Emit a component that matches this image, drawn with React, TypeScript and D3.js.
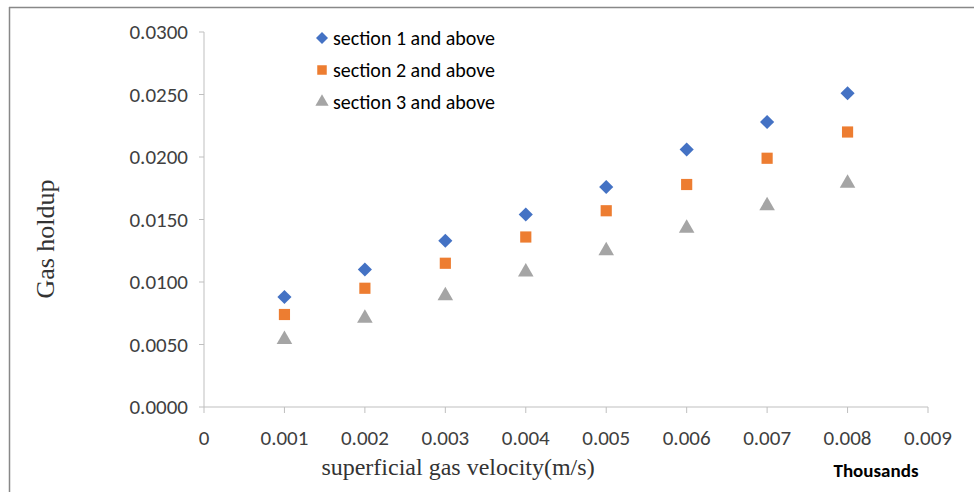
import React from 'react';
import * as d3 from 'd3';

const velocities = [0.001, 0.002, 0.003, 0.004, 0.005, 0.006, 0.007, 0.008];
const section1 = [0.0088, 0.0110, 0.0133, 0.0154, 0.0176, 0.0206, 0.0228, 0.0251];
const section2 = [0.0074, 0.0095, 0.0115, 0.0136, 0.0157, 0.0178, 0.0199, 0.0220];
const section3 = [0.0054, 0.0071, 0.0089, 0.0108, 0.0125, 0.0143, 0.0161, 0.0179];
const seriesNames = ['section 1 and above', 'section 2 and above', 'section 3 and above'];
const xTicks = [0, 0.001, 0.002, 0.003, 0.004, 0.005, 0.006, 0.007, 0.008, 0.009];
const yTicks = [0, 0.005, 0.01, 0.015, 0.02, 0.025, 0.03];

const W = 974;
const H = 492;
const colors = ['#4472C4', '#ED7D31', '#A5A5A5'];
const axisColor = '#BFBFBF';
const labelFont = 'Calibri, Carlito, Lato, sans-serif';
const serifFont = '"Liberation Serif", "Times New Roman", serif';

const x = d3.scaleLinear().domain([0, 0.009]).range([204, 928]);
const y = d3.scaleLinear().domain([0, 0.03]).range([407, 32]);

// diamond = square turned 45 degrees, like the Excel marker
const markerPaths = [
  d3.symbol().type(d3.symbolSquare).size(100)() || '',
  d3.symbol().type(d3.symbolSquare).size(125)() || '',
  d3.symbol().type(d3.symbolTriangle).size(105)() || '',
];
const markerRotate = [45, 0, 0];

export default function App() {
  const allSeries = [section1, section2, section3];
  return (
    <svg width={W} height={H} style={{ position: 'absolute', left: 0, top: 0, background: '#fff' }}>
      {/* outer frame, only top and left visible */}
      <line x1={9} x2={W} y1={7.5} y2={7.5} stroke="#888" strokeWidth={1.5} />
      <line x1={9.5} x2={9.5} y1={7} y2={H} stroke="#888" strokeWidth={1.5} />

      {/* y axis */}
      <line x1={x(0)} x2={x(0)} y1={y(0.03)} y2={y(0)} stroke={axisColor} />
      {yTicks.map((t) => (
        <g key={t}>
          <line x1={x(0) - 5} x2={x(0)} y1={y(t)} y2={y(t)} stroke={axisColor} />
          <text x={188} y={y(t)} dy="0.35em" textAnchor="end" fontSize={21}
            fontFamily={labelFont} fill="#404040">{d3.format('.4f')(t)}</text>
        </g>
      ))}

      {/* x axis */}
      <line x1={x(0)} x2={x(0.009)} y1={y(0)} y2={y(0)} stroke={axisColor} />
      {xTicks.map((t) => (
        <g key={t}>
          <line x1={x(t)} x2={x(t)} y1={y(0)} y2={y(0) + 6} stroke={axisColor} />
          <text x={x(t)} y={438} dy="0.35em" textAnchor="middle" fontSize={21}
            fontFamily={labelFont} fill="#404040">{t === 0 ? '0' : d3.format('.3f')(t)}</text>
        </g>
      ))}

      {/* points */}
      {allSeries.map((vals, si) => (
        <g key={si}>
          {vals.map((v, i) => (
            <path key={i} d={markerPaths[si]}
              transform={`translate(${x(velocities[i])},${y(v)}) rotate(${markerRotate[si]})`}
              fill={colors[si]} />
          ))}
        </g>
      ))}

      {/* legend */}
      {seriesNames.map((name, si) => (
        <g key={name} transform={`translate(322,${38 + si * 32})`}>
          <path d={markerPaths[si]} transform={`rotate(${markerRotate[si]}) scale(0.85)`} fill={colors[si]} />
          <text x={11} y={0} dy="0.35em" fontSize={20} fontFamily={labelFont} fill="#000">{name}</text>
        </g>
      ))}

      {/* axis titles */}
      <text transform="translate(54,239) rotate(-90)" textAnchor="middle" fontSize={26}
        fontFamily={serifFont} fill="#333">Gas holdup</text>
      <text x={458} y={467} dy="0.35em" textAnchor="middle" fontSize={24}
        fontFamily={serifFont} fill="#333">superficial gas velocity(m/s)</text>
      <text x={876} y={470} dy="0.35em" textAnchor="middle" fontSize={19} fontWeight="bold"
        fontFamily={labelFont} fill="#000">Thousands</text>
    </svg>
  );
}
